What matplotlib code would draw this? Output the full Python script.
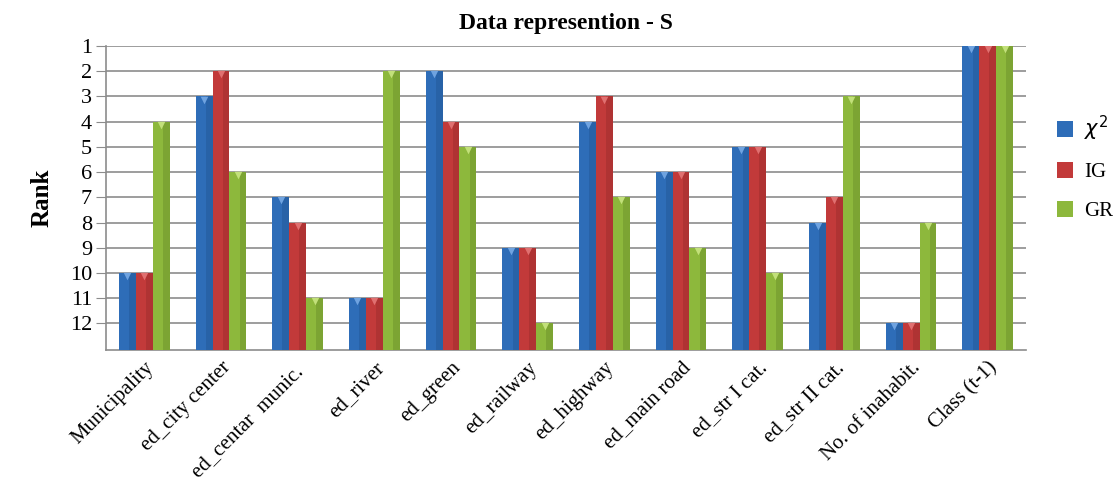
import numpy as np
import matplotlib.pyplot as plt

# ------- DATA ----------
categories = ["Municipality", "ed_city center", "ed_centar  munic. ", "ed_river", "ed_green",
              "ed_railway", "ed_highway", "ed_main road", "ed_str I cat.", "ed_str II cat.",
              "No. of inahabit.", "Class (t-1)"]
chi2_rank = [10, 3, 7, 11, 2, 9, 4, 6, 5, 8, 12, 1]
ig_rank   = [10, 2, 8, 11, 4, 9, 3, 6, 5, 7, 12, 1]
gr_rank   = [4, 6, 11, 2, 5, 12, 7, 9, 10, 3, 8, 1]
rank_ticks = list(range(1, 13))
base = 13.05   # bottom of the rank axis

series = [(chi2_rank, r"$\chi^2$", "#2E6DB8", "#1F4F8A", "#6FA3E0"),
          (ig_rank,   "IG",        "#C23A3A", "#8E2626", "#E07070"),
          (gr_rank,   "GR",        "#8DB83C", "#5F7F25", "#C2E07A")]

plt.rcParams["font.family"] = ["Liberation Serif", "DejaVu Serif"]

fig = plt.figure(figsize=(11.18, 4.9), dpi=100)
ax = fig.add_axes([0.0948, 0.286, 0.823, 0.620])

x = np.arange(len(categories))
w = 0.22
for i, (vals, name, col, dark, light) in enumerate(series):
    vals = np.array(vals)
    pos = x + (i - 1) * w
    ax.bar(pos, base - vals, bottom=vals, width=w, color=col, edgecolor="none",
           label=name, zorder=3)
    # darker right edge for a bit of depth
    ax.bar(pos + w * 0.3, base - vals, bottom=vals, width=w * 0.4, color=dark,
           alpha=0.35, edgecolor="none", zorder=4)
    # small light triangle on top of each bar
    ax.scatter(pos, vals + 0.12, marker="v", s=30, color=light,
               linewidths=0, zorder=5)

ax.set_ylim(base, 1)
ax.set_xlim(-0.5, len(categories) - 0.5)
ax.set_yticks(rank_ticks)
ax.set_yticklabels([str(r) for r in rank_ticks], fontsize=16)
ax.yaxis.grid(True, color="#8C8C8C", linewidth=1.2, zorder=0)
ax.tick_params(axis="y", length=7, color="#8C8C8C", pad=3)
ax.tick_params(axis="x", length=0, pad=6)
ax.set_xticks(x)
ax.set_xticklabels(categories, rotation=45, ha="right", rotation_mode="anchor", fontsize=15)

for s in ["top", "right"]:
    ax.spines[s].set_visible(False)
for s in ["left", "bottom"]:
    ax.spines[s].set_color("#8C8C8C")
    ax.spines[s].set_linewidth(1.2)

ax.set_ylabel("Rank", fontsize=18, fontweight="bold", labelpad=12)
ax.set_title("Data represention - S", fontsize=17, fontweight="bold", pad=12)

ax.legend(loc="center left", bbox_to_anchor=(1.013, 0.60), frameon=False, fontsize=15,
          handlelength=0.8, handleheight=0.8, labelspacing=0.9, handletextpad=0.5)

fig.savefig("out.png", dpi=100)
